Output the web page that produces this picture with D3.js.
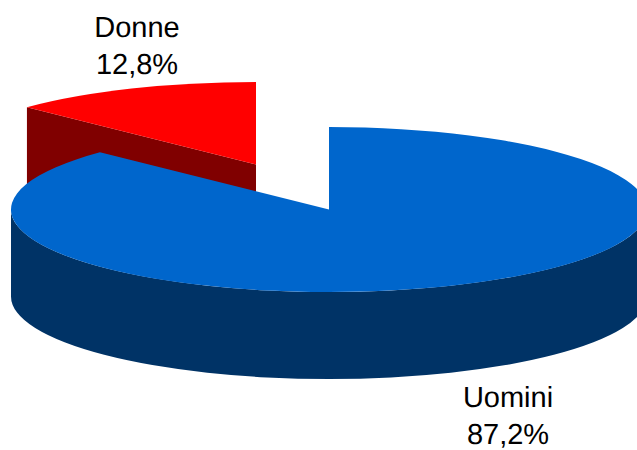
<!DOCTYPE html>
<html>
<head>
<meta charset="utf-8">
<style>
  html, body { margin: 0; padding: 0; background: #fff; }
  svg { display: block; }
  text { font-family: "Liberation Sans", Arial, sans-serif; font-size: 29px; fill: #000; text-anchor: middle; text-rendering: geometricPrecision; }
</style>
<script src="https://cdn.jsdelivr.net/npm/d3@7"></script>
</head>
<body>
<div id="chart"></div>
<script>
var categories = ["Uomini", "Donne"];
var shares = [87.2, 12.8];
var shareLabels = ["87,2%", "12,8%"];

var width = 637, height = 450;
var cx = 329, cy = 209.5, rx = 318, ry = 82.5, depth = 87;

// per slice: top colour, side colour, explode offset, label anchor
var topColors = ["#0066cc", "#ff0000"];
var sideColors = ["#003366", "#800000"];
var offsets = [[0, 0], [-73, -45]];
var labelPos = [[508, 406.5], [137, 37]];

var svg = d3.select("#chart").append("svg")
  .attr("width", width)
  .attr("height", height);

var slices = d3.pie().sort(null)(shares);

// point on the rim, angle measured clockwise from 12 o'clock
function rim(a) {
  return [cx + rx * Math.sin(a), cy - ry * Math.cos(a)];
}

function drawTop(d, i) {
  var off = offsets[i];
  svg.append("g")
    .attr("transform", "translate(" + (cx + off[0]) + "," + (cy + off[1]) + ") scale(1," + (ry / rx) + ")")
    .append("path")
    .attr("d", d3.arc().innerRadius(0).outerRadius(rx)(d))
    .attr("fill", topColors[i]);
}

// red slice: only the cut face at its start angle shows
var red = slices[1];
var redEdge = rim(red.startAngle);
var redOff = offsets[1];
var redFace = d3.path();
redFace.moveTo(cx + redOff[0], cy + redOff[1]);
redFace.lineTo(redEdge[0] + redOff[0], redEdge[1] + redOff[1]);
redFace.lineTo(redEdge[0] + redOff[0], redEdge[1] + redOff[1] + depth);
redFace.lineTo(cx + redOff[0], cy + redOff[1] + depth);
redFace.closePath();
svg.append("path").attr("d", redFace.toString()).attr("fill", sideColors[1]);
drawTop(red, 1);

// blue slice: front wall of the cylinder, left rim to right rim
var wall = "M" + (cx - rx) + "," + cy +
  "L" + (cx - rx) + "," + (cy + depth) +
  "A" + rx + "," + ry + " 0 0 0 " + (cx + rx) + "," + (cy + depth) +
  "L" + (cx + rx) + "," + cy +
  "A" + rx + "," + ry + " 0 0 1 " + (cx - rx) + "," + cy + "Z";
svg.append("path").attr("d", wall).attr("fill", sideColors[0]);
drawTop(slices[0], 0);

// labels
categories.forEach(function(name, i) {
  var p = labelPos[i];
  svg.append("text").attr("x", p[0]).attr("y", p[1]).text(name);
  svg.append("text").attr("x", p[0]).attr("y", p[1] + 37).text(shareLabels[i]);
});
</script>
</body>
</html>
